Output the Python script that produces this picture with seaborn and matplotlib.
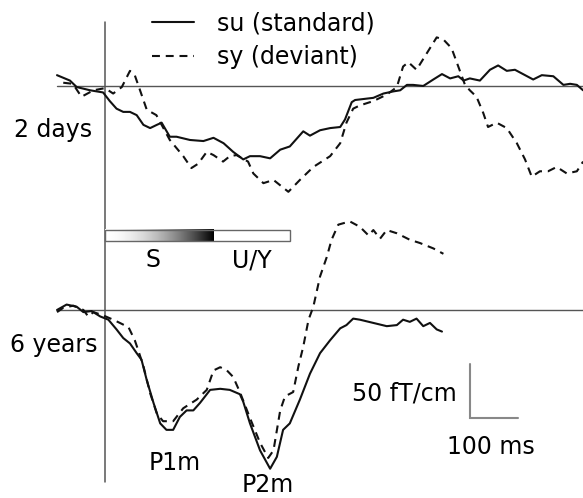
import numpy as np
import seaborn as sns
import matplotlib.pyplot as plt

# MEG responses (fT/cm) vs time (ms)
# 2 days, su (standard)
su_2d_t = [-100, -73, -59, -31, -4, 10, 24, 38, 52, 66, 80, 94, 108, 118, 135, 149, 177, 205, 226, 247,
           267, 288, 302, 323, 344, 365, 385, 413, 427, 448, 469, 490, 500, 514, 521, 559, 580, 601, 615, 629,
           642, 663, 684, 702, 719, 736, 747, 760, 781, 802, 819, 837, 854, 892, 910, 934, 955, 969, 983, 996]
su_2d_a = [10, 5, -1, -4, -6, -14, -21, -24, -24, -27, -36, -39, -36, -34, -47, -47, -50, -51, -48, -53,
           -61, -68, -65, -65, -67, -59, -56, -42, -46, -41, -39, -38, -31, -15, -13, -11, -7, -5, -4, 1,
           1, 0, 6, 11, 7, 9, 5, 7, 5, 15, 19, 14, 15, 6, 10, 9, 1, 2, 1, -4]

# 2 days, sy (deviant)
sy_2d_t = [-87, -67, -49, -24, 0, 17, 35, 52, 62, 73, 87, 107, 118, 135, 163, 180, 194, 212, 226, 246,
           260, 274, 298, 309, 330, 351, 382, 406, 434, 469, 490, 503, 517, 531, 559, 587, 608, 621, 632, 649,
           670, 691, 705, 722, 736, 750, 760, 774, 788, 798, 816, 837, 858, 875, 889, 906, 923, 941, 962, 983, 996]
sy_2d_a = [3, 2, -10, -4, -2, -7, -1, 14, 10, -4, -22, -27, -36, -50, -65, -76, -72, -61, -64, -70,
           -65, -64, -70, -81, -90, -87, -98, -87, -75, -65, -53, -34, -21, -18, -14, -8, -1, 18, 22, 15,
           30, 45, 43, 35, 18, 1, -4, -10, -25, -38, -34, -39, -53, -68, -84, -79, -79, -75, -81, -79, -70]

# 6 years, su (standard)
su_6y_t = [-100, -80, -59, -45, -28, -10, 7, 24, 38, 52, 66, 76, 87, 101, 115, 128, 142, 156, 170, 184,
           198, 219, 240, 260, 281, 288, 302, 323, 344, 358, 371, 385, 406, 427, 448, 469, 490, 503, 517, 531,
           559, 587, 608, 621, 635, 649, 663, 677, 691, 702]
su_6y_a = [0, 5, 3, -2, -1, -6, -9, -18, -26, -31, -40, -46, -65, -86, -105, -111, -111, -99, -93, -93,
           -86, -74, -73, -74, -78, -85, -105, -130, -147, -136, -111, -105, -83, -59, -40, -28, -17, -14, -8, -9,
           -12, -15, -14, -9, -11, -8, -15, -12, -18, -20]

# 6 years, sy (deviant)
sy_6y_t = [-100, -87, -66, -45, -35, -24, -4, 17, 31, 49, 62, 69, 80, 94, 108, 121, 142, 163, 191, 212,
           226, 240, 254, 267, 281, 302, 323, 340, 351, 365, 375, 392, 403, 413, 424, 434, 448, 462, 472, 486,
           510, 531, 549, 559, 573, 587, 608, 635, 656, 684, 705]
sy_6y_a = [-2, 2, 4, 0, -6, -2, -5, -9, -12, -16, -28, -37, -52, -77, -96, -103, -103, -91, -83, -74,
           -56, -53, -56, -62, -76, -100, -123, -137, -130, -93, -80, -76, -52, -34, -9, 3, 31, 49, 65, 79,
           82, 77, 69, 74, 66, 74, 71, 65, 62, 57, 52]

# stimulus bar: S part then U/Y part (ms)
stim_s_end = 225
stim_end = 385

W, H = 583, 498
top_off = 0
bot_off = -207.4
line_col = "#111111"
axis_col = "#555555"

sns.set_style("white")
plt.rcParams['font.family'] = ['DejaVu Sans']
plt.rcParams['text.color'] = 'black'

fig = plt.figure(figsize=(W / 100, H / 100), dpi=100)
ax = fig.add_axes([0, 0, 1, 1])


def px(x, y):
    return x / W, 1 - y / H


# baselines and time-zero line
ax.plot([-100, 1000], [top_off, top_off], color=axis_col, lw=1.0)
ax.plot([-100, 1000], [bot_off, bot_off], color=axis_col, lw=1.0)
ax.plot([0, 0], [59, -367], color=axis_col, lw=1.1)

dash = (0, (3.8, 2.8))
sns.lineplot(x=su_2d_t, y=np.array(su_2d_a) + top_off, ax=ax, color=line_col, lw=1.5,
             label="su (standard)")
sns.lineplot(x=sy_2d_t, y=np.array(sy_2d_a) + top_off, ax=ax, color=line_col, lw=1.5,
             linestyle=dash, label="sy (deviant)")
sns.lineplot(x=su_6y_t, y=np.array(su_6y_a) + bot_off, ax=ax, color=line_col, lw=1.5)
sns.lineplot(x=sy_6y_t, y=np.array(sy_6y_a) + bot_off, ax=ax, color=line_col, lw=1.5,
             linestyle=dash)

# stimulus bar with gradient
grad = 1 - np.linspace(0, 1, 256) ** 1.8
ax.imshow(grad[np.newaxis, :], cmap="gray", vmin=0, vmax=1, aspect="auto",
          extent=[0, stim_s_end, -144, -133.5], zorder=2)
ax.add_patch(plt.Rectangle((0, -144), stim_end, 10.5, fill=False, ec="#666666", lw=1.0, zorder=3))

# scale bar: 50 fT/cm, 100 ms
ax.plot([760, 760, 860], [bot_off - 50, bot_off - 100, bot_off - 100], color="#888888", lw=1.5,
        solid_joinstyle="miter")

ax.set_xlim(-218.75, 995.8)
ax.set_ylim(-381.5, 79.6)
ax.axis("off")

leg = ax.legend(loc="upper left", bbox_to_anchor=px(151.7, 11), bbox_transform=fig.transFigure,
                frameon=False, fontsize=17, handlelength=1.8, handletextpad=0.95,
                labelspacing=0.42, borderpad=0, borderaxespad=0)
for txt in leg.get_texts():
    txt.set_color("black")

fs = 17
fig.text(*px(92, 130), "2 days", ha="right", va="center", fontsize=fs)
fig.text(*px(98, 345), "6 years", ha="right", va="center", fontsize=fs)
fig.text(*px(153, 260), "S", ha="center", va="center", fontsize=fs)
fig.text(*px(252, 260), "U/Y", ha="center", va="center", fontsize=fs)
fig.text(*px(175, 463), "P1m", ha="center", va="center", fontsize=fs)
fig.text(*px(268, 485), "P2m", ha="center", va="center", fontsize=fs)
fig.text(*px(457, 393), "50 fT/cm", ha="right", va="center", fontsize=fs)
fig.text(*px(491, 447), "100 ms", ha="center", va="center", fontsize=fs)

plt.savefig("out.png", dpi=100)
